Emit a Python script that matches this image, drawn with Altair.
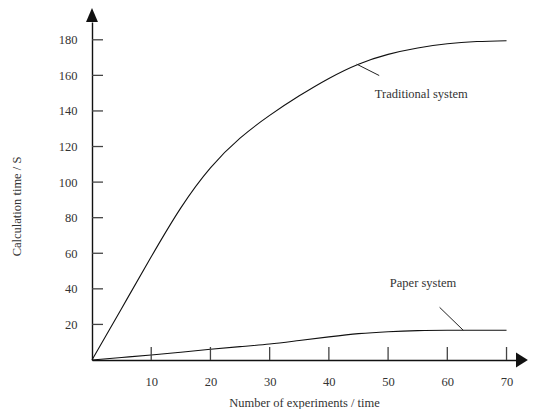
import altair as alt
import pandas as pd

# ---- data ----
x_vals = [0, 5, 10, 15, 20, 25, 30, 35, 40, 45, 50, 55, 60, 65, 70]
traditional = [0, 29, 58, 85.5, 108, 124.7, 137.5, 148.5, 158.3, 166.3, 171.8, 175.4, 177.8, 179, 179.5]
paper = [0, 1.4, 2.8, 4.4, 6, 7.5, 9, 11, 13, 14.8, 15.9, 16.5, 16.7, 16.7, 16.7]

y_ticks = [20, 40, 60, 80, 100, 120, 140, 160, 180]
x_ticks = [10, 20, 30, 40, 50, 60, 70]

labels = ["Traditional system", "Paper system"]
label_x = [55.6, 55.9]
label_y = [149.6, 43.5]
leader_x = [44.7, 58.7]
leader_y = [166.3, 29.6]
leader_x2 = [48.5, 62.7]
leader_y2 = [159.9, 16.7]

X_MAX = 71.6
Y_MAX = 190
W, H = 424, 338
FONT = "Liberation Serif"
FS = 12.5

df = pd.DataFrame({
    "x": x_vals * 2,
    "v": traditional + paper,
    "series": ["Traditional system"] * len(x_vals) + ["Paper system"] * len(x_vals),
})

xs = alt.Scale(domain=[0, X_MAX], nice=False, zero=False)
ys = alt.Scale(domain=[0, Y_MAX], nice=False, zero=False)

xaxis = alt.Axis(values=x_ticks, ticks=False, tickSize=0, grid=False, domainColor="#111",
                 domainWidth=1.4, labelFont=FONT, labelFontSize=FS, labelColor="#333",
                 labelPadding=15, title="Number of experiments / time", titleFont=FONT,
                 titleFontSize=FS, titleFontWeight="normal", titleColor="#333",
                 titleY=42, titleBaseline="middle")
yaxis = alt.Axis(values=y_ticks, ticks=False, tickSize=0, grid=False, domainColor="#111",
                 domainWidth=1.4, labelFont=FONT, labelFontSize=FS, labelColor="#333",
                 labelPadding=15, title="Calculation time / S", titleFont=FONT,
                 titleFontSize=FS, titleFontWeight="normal", titleColor="#333",
                 titleX=-76, titleY=184, titleAngle=270, titleBaseline="middle",
                 titleAlign="center")

lines = alt.Chart(df).mark_line(color="#111", strokeWidth=1.1, interpolate="natural").encode(
    x=alt.X("x:Q", scale=xs, axis=xaxis),
    y=alt.Y("v:Q", scale=ys, axis=yaxis),
    detail="series:N",
)

ytick_df = pd.DataFrame({"v": y_ticks})
yticks = alt.Chart(ytick_df).mark_rule(color="#444", strokeWidth=1.3).encode(
    y=alt.Y("v:Q", scale=ys), x=alt.value(0), x2=alt.value(11)
)
xtick_df = pd.DataFrame({"v": x_ticks})
xticks = alt.Chart(xtick_df).mark_rule(color="#444", strokeWidth=1.3).encode(
    x=alt.X("v:Q", scale=xs), y=alt.value(H), y2=alt.value(H - 13)
)

ann_df = pd.DataFrame({"label": labels, "x": label_x, "y": label_y,
                       "lx": leader_x, "ly": leader_y, "lx2": leader_x2, "ly2": leader_y2})
texts = alt.Chart(ann_df).mark_text(font=FONT, fontSize=FS, color="#333",
                                    align="center", baseline="middle").encode(
    x=alt.X("x:Q", scale=xs), y=alt.Y("y:Q", scale=ys), text="label:N"
)
leaders = alt.Chart(ann_df).mark_rule(color="#222", strokeWidth=1).encode(
    x=alt.X("lx:Q", scale=xs), y=alt.Y("ly:Q", scale=ys),
    x2="lx2:Q", y2="ly2:Q"
)

arrow_df = pd.DataFrame({
    "x": [0, X_MAX], "y": [Y_MAX, 0],
    "shape": ["M -0.7 0 L 0.7 0 L 0 -1.65 Z", "M 0 -0.88 L 0 0.88 L 1.4 0 Z"],
})
arrows = alt.Chart(arrow_df).mark_point(filled=True, color="#111", opacity=1, size=289,
                                        strokeWidth=0).encode(
    x=alt.X("x:Q", scale=xs), y=alt.Y("y:Q", scale=ys),
    shape=alt.Shape("shape:N", scale=None, legend=None),
)

chart = alt.layer(lines, yticks, xticks, leaders, texts, arrows).properties(
    width=W, height=H,
    autosize=alt.AutoSizeParams(type="none"),
    padding={"left": 84, "top": 14, "right": 12, "bottom": 49},
    background="white",
).configure_view(stroke=None)

chart.save("out.html", embed_options={"renderer": "svg", "actions": False})
